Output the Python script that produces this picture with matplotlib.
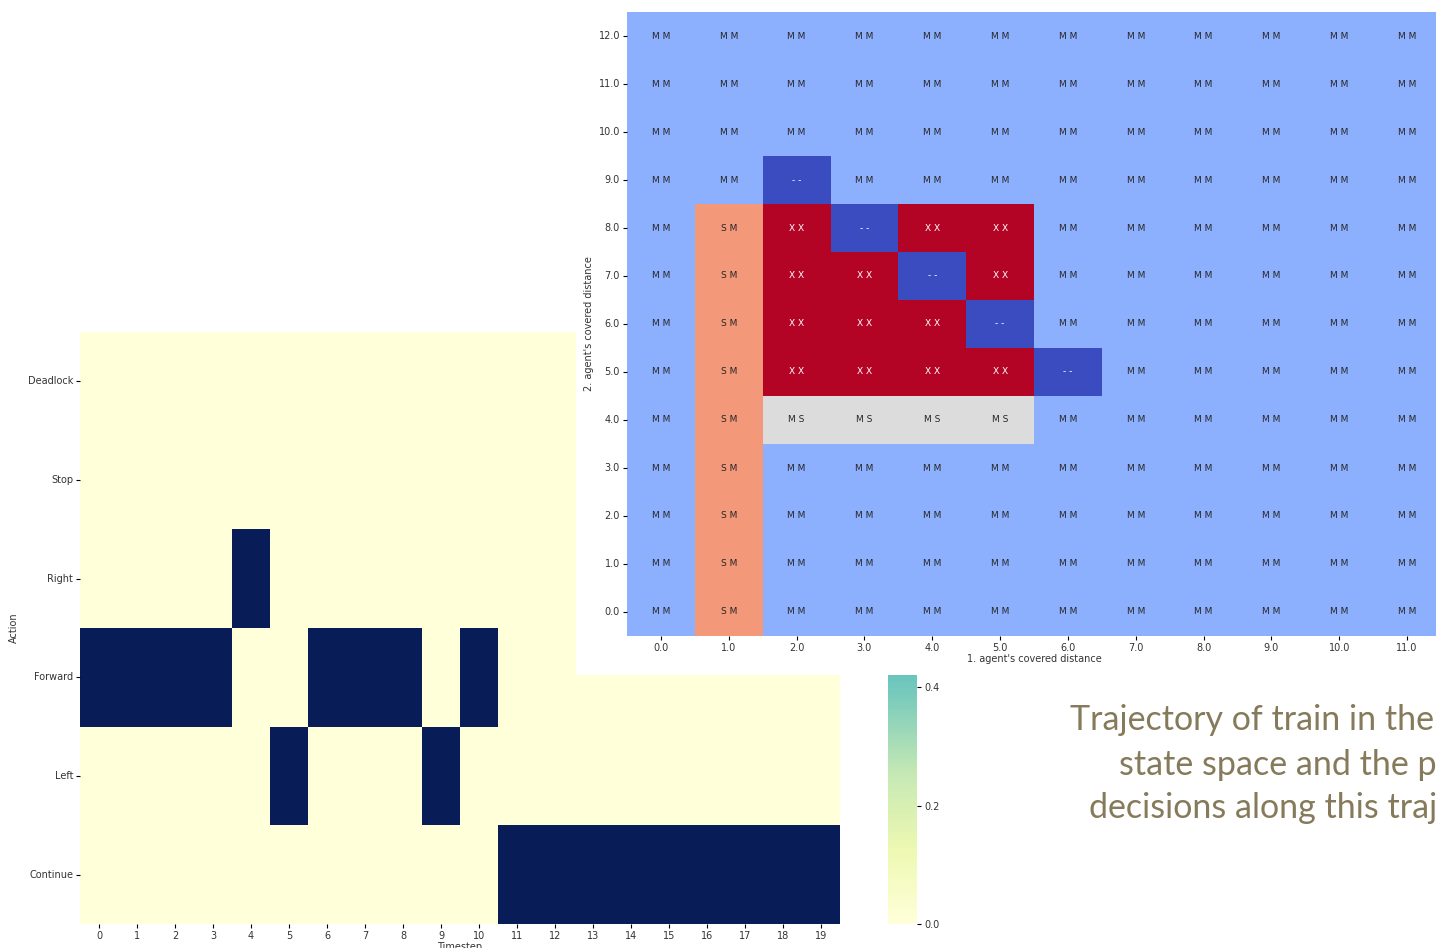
import numpy as np
import matplotlib
matplotlib.use("Agg")
import matplotlib.pyplot as plt
import seaborn as sns
from matplotlib.patches import Rectangle

# action chosen by the policy at every timestep
actions = ["Deadlock", "Stop", "Right", "Forward", "Left", "Continue"]
timesteps = list(range(20))
chosen = (["Forward"] * 4 + ["Right", "Left"] + ["Forward"] * 3
          + ["Left", "Forward"] + ["Continue"] * 9)

# joint state space: rows = 2. agent's distance (12 at top), cols = 1. agent's distance
dist1 = [float(v) for v in range(12)]
dist2 = [float(v) for v in range(12, -1, -1)]
state_codes = [
    ["MM", "MM", "MM", "MM", "MM", "MM", "MM", "MM", "MM", "MM", "MM", "MM"],  # 12
    ["MM", "MM", "MM", "MM", "MM", "MM", "MM", "MM", "MM", "MM", "MM", "MM"],  # 11
    ["MM", "MM", "MM", "MM", "MM", "MM", "MM", "MM", "MM", "MM", "MM", "MM"],  # 10
    ["MM", "MM", "--", "MM", "MM", "MM", "MM", "MM", "MM", "MM", "MM", "MM"],  # 9
    ["MM", "SM", "XX", "--", "XX", "XX", "MM", "MM", "MM", "MM", "MM", "MM"],  # 8
    ["MM", "SM", "XX", "XX", "--", "XX", "MM", "MM", "MM", "MM", "MM", "MM"],  # 7
    ["MM", "SM", "XX", "XX", "XX", "--", "MM", "MM", "MM", "MM", "MM", "MM"],  # 6
    ["MM", "SM", "XX", "XX", "XX", "XX", "--", "MM", "MM", "MM", "MM", "MM"],  # 5
    ["MM", "SM", "MS", "MS", "MS", "MS", "MM", "MM", "MM", "MM", "MM", "MM"],  # 4
    ["MM", "SM", "MM", "MM", "MM", "MM", "MM", "MM", "MM", "MM", "MM", "MM"],  # 3
    ["MM", "SM", "MM", "MM", "MM", "MM", "MM", "MM", "MM", "MM", "MM", "MM"],  # 2
    ["MM", "SM", "MM", "MM", "MM", "MM", "MM", "MM", "MM", "MM", "MM", "MM"],  # 1
    ["MM", "SM", "MM", "MM", "MM", "MM", "MM", "MM", "MM", "MM", "MM", "MM"],  # 0
]
code_value = {"--": -2, "MM": -1, "MS": 0, "SM": 1, "XX": 2}

onehot = np.zeros((len(actions), len(timesteps)))
for t, a in enumerate(chosen):
    onehot[actions.index(a), t] = 1

state_vals = np.array([[code_value[c] for c in row] for row in state_codes])
state_annot = np.array([[" ".join(c) for c in row] for row in state_codes])

W, H = 1436, 948
fig = plt.figure(figsize=(W / 100, H / 100), dpi=100)


def box(x0, y0, x1, y1):
    # pixel box (top-left origin) -> figure rect
    return [x0 / W, 1 - y1 / H, (x1 - x0) / W, (y1 - y0) / H]


tick_kw = dict(labelsize=7, length=3, pad=2, labelcolor="#333333")

# decisions heatmap
ax_act = fig.add_axes(box(80, 332, 840, 924))
ax_cb = fig.add_axes(box(888, 332, 917, 924))
sns.heatmap(onehot, cmap="YlGnBu", vmin=0, vmax=1, ax=ax_act, cbar_ax=ax_cb,
            xticklabels=timesteps, yticklabels=actions)
ax_act.set_xlabel("Timestep", fontsize=7, labelpad=1, color="#333333")
ax_act.set_ylabel("Action", fontsize=7, labelpad=6, color="#333333")
ax_act.tick_params(**tick_kw)
plt.setp(ax_act.get_yticklabels(), rotation=0)
plt.setp(ax_act.get_xticklabels(), rotation=0)
ax_cb.tick_params(**tick_kw)

# white backing for the state-space plot
fig.add_artist(Rectangle((576 / W, 1 - 675 / H), (W - 576) / W, 675 / H,
                         transform=fig.transFigure, facecolor="white",
                         edgecolor="none", zorder=1))

# state space heatmap
ax_st = fig.add_axes(box(627, 12, 1441, 636))
ax_st.set_zorder(2)
sns.heatmap(state_vals, cmap="coolwarm", vmin=-2, vmax=2, ax=ax_st, cbar=False,
            annot=state_annot, fmt="", annot_kws={"fontsize": 6.5},
            xticklabels=dist1, yticklabels=dist2)
ax_st.set_xlabel("1. agent's covered distance", fontsize=7, labelpad=1,
                 color="#333333")
ax_st.set_ylabel("2. agent's covered distance", fontsize=7, labelpad=3,
                 color="#333333")
ax_st.tick_params(**tick_kw)
plt.setp(ax_st.get_yticklabels(), rotation=0)
plt.setp(ax_st.get_xticklabels(), rotation=0)

# caption
cap_kw = dict(fontsize=24.5, color="#857a5a", family="Lato", ha="left", va="baseline")
fig.text(1070 / W, 1 - 730 / H, "Trajectory of train in the 2-agent", **cap_kw)
fig.text(1119 / W, 1 - 775 / H, "state space and the policy's", **cap_kw)
fig.text(1089 / W, 1 - 818 / H, "decisions along this trajectory", **cap_kw)

fig.savefig("out.png", dpi=100)
